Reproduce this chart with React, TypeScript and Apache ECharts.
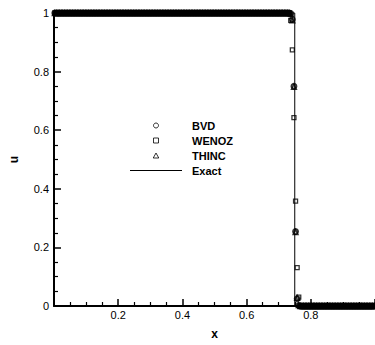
import React, { useEffect, useRef } from "react";
import * as echarts from "echarts";

// grid of cell centres (200 cells on [0,1])
const cellCount = 200;
const xTicks = [0.2, 0.4, 0.6, 0.8];
const yTicks = [0, 0.2, 0.4, 0.6, 0.8, 1];

// left and right plateau values
const leftState = 1;
const rightState = 0;
const shockX = 0.75;

// cells across the jump and the values read at them
const transitionX = [0.7375, 0.7425, 0.7475, 0.7525, 0.7575, 0.7625];
const bvdTransition = [0.998, 0.978, 0.75, 0.254, 0.025, 0.002];
const wenozTransition = [0.975, 0.874, 0.643, 0.358, 0.131, 0.03];
const thincTransition = [0.997, 0.975, 0.748, 0.252, 0.028, 0.003];

// exact solution
const exactX = [0, 0.75, 0.75, 1];
const exactU = [1, 1, 0, 0];

function buildSeries(transition: number[]): number[][] {
  const out: number[][] = [];
  for (let i = 0; i < cellCount; i++) {
    const x = (i + 0.5) / cellCount;
    const k = transitionX.findIndex((t) => Math.abs(t - x) < 1e-9);
    const u = k >= 0 ? transition[k] : x < shockX ? leftState : rightState;
    out.push([x, u]);
  }
  return out;
}

export default function App() {
  const ref = useRef<HTMLDivElement>(null);
  useEffect(() => {
    document.body.style.margin = "0";
    if (!ref.current) return;
    const chart = echarts.init(ref.current, undefined, { renderer: "svg" });
    const font = "'Liberation Sans', Arial, Helvetica, sans-serif";
    const clear = "rgba(255,255,255,0)";
    chart.setOption({
      animation: false,
      backgroundColor: "#ffffff",
      grid: { left: 48, top: 13, width: 332, height: 302 },
      legend: {
        orient: "vertical",
        left: 130,
        top: 119,
        padding: 0,
        itemWidth: 52,
        itemHeight: 5,
        itemGap: 2,
        symbolKeepAspect: true,
        textStyle: {
          fontFamily: font,
          fontWeight: "bold",
          fontSize: 11,
          color: "#000",
          lineHeight: 13,
          padding: [0, 0, 0, 5],
        },
        itemStyle: { borderWidth: 1 },
        data: [
          { name: "BVD", icon: "circle" },
          { name: "WENOZ", icon: "path://M0,0 L8,0 L8,8 L0,8 Z" },
          { name: "THINC", icon: "path://M5,0 L10,9 L0,9 Z" },
          { name: "Exact", icon: "path://M0,0 L52,0 L52,1 L0,1 Z" },
        ],
      },
      xAxis: {
        type: "value",
        min: 0,
        max: 1,
        interval: 0.2,
        name: "x",
        nameLocation: "middle",
        nameGap: 22,
        nameTextStyle: { fontFamily: font, fontWeight: "bold", fontSize: 12, color: "#000" },
        axisLine: { lineStyle: { color: "#000", width: 2 } },
        axisTick: { inside: true, length: 7, lineStyle: { color: "#000", width: 1.5 } },
        minorTick: { show: true, splitNumber: 4, length: 4, lineStyle: { color: "#000", width: 1.2 } },
        splitLine: { show: false },
        axisLabel: {
          margin: 3,
          fontFamily: font,
          fontSize: 11,
          color: "#000",
          showMinLabel: false,
          showMaxLabel: false,
          formatter: (v: number) =>
            xTicks.some((t) => Math.abs(t - v) < 1e-9) ? String(v) : "",
        },
      },
      yAxis: {
        type: "value",
        min: 0,
        max: 1,
        interval: 0.2,
        name: "u",
        nameLocation: "middle",
        nameGap: 34,
        nameRotate: 90,
        nameTextStyle: { fontFamily: font, fontWeight: "bold", fontSize: 12, color: "#000" },
        axisLine: { show: true, lineStyle: { color: "#000", width: 2 } },
        axisTick: { show: true, inside: true, length: 7, lineStyle: { color: "#000", width: 1.5 } },
        minorTick: { show: true, splitNumber: 4, length: 4, lineStyle: { color: "#000", width: 1.2 } },
        splitLine: { show: false },
        axisLabel: {
          margin: 5,
          fontFamily: font,
          fontSize: 11,
          color: "#000",
          formatter: (v: number) =>
            yTicks.some((t) => Math.abs(t - v) < 1e-9) ? String(v) : "",
        },
      },
      series: [
        {
          name: "BVD",
          type: "scatter",
          symbol: "circle",
          symbolSize: 5,
          clip: false,
          itemStyle: { color: clear, borderColor: "#000", borderWidth: 1.9 },
          data: buildSeries(bvdTransition),
        },
        {
          name: "WENOZ",
          type: "scatter",
          symbol: "rect",
          symbolSize: 4,
          clip: false,
          itemStyle: { color: clear, borderColor: "#000", borderWidth: 1.3 },
          data: buildSeries(wenozTransition),
        },
        {
          name: "THINC",
          type: "scatter",
          symbol: "triangle",
          symbolSize: 5,
          clip: false,
          itemStyle: { color: clear, borderColor: "#000", borderWidth: 1.4 },
          data: buildSeries(thincTransition),
        },
        {
          name: "Exact",
          type: "line",
          symbol: "none",
          showSymbol: false,
          clip: false,
          lineStyle: { color: "#000", width: 1 },
          itemStyle: { color: "#000", borderWidth: 0 },
          data: exactX.map((x, i) => [x, exactU[i]]),
          z: 1,
        },
      ],
    });
    return () => chart.dispose();
  }, []);
  return <div ref={ref} style={{ width: 375, height: 345 }} />;
}
